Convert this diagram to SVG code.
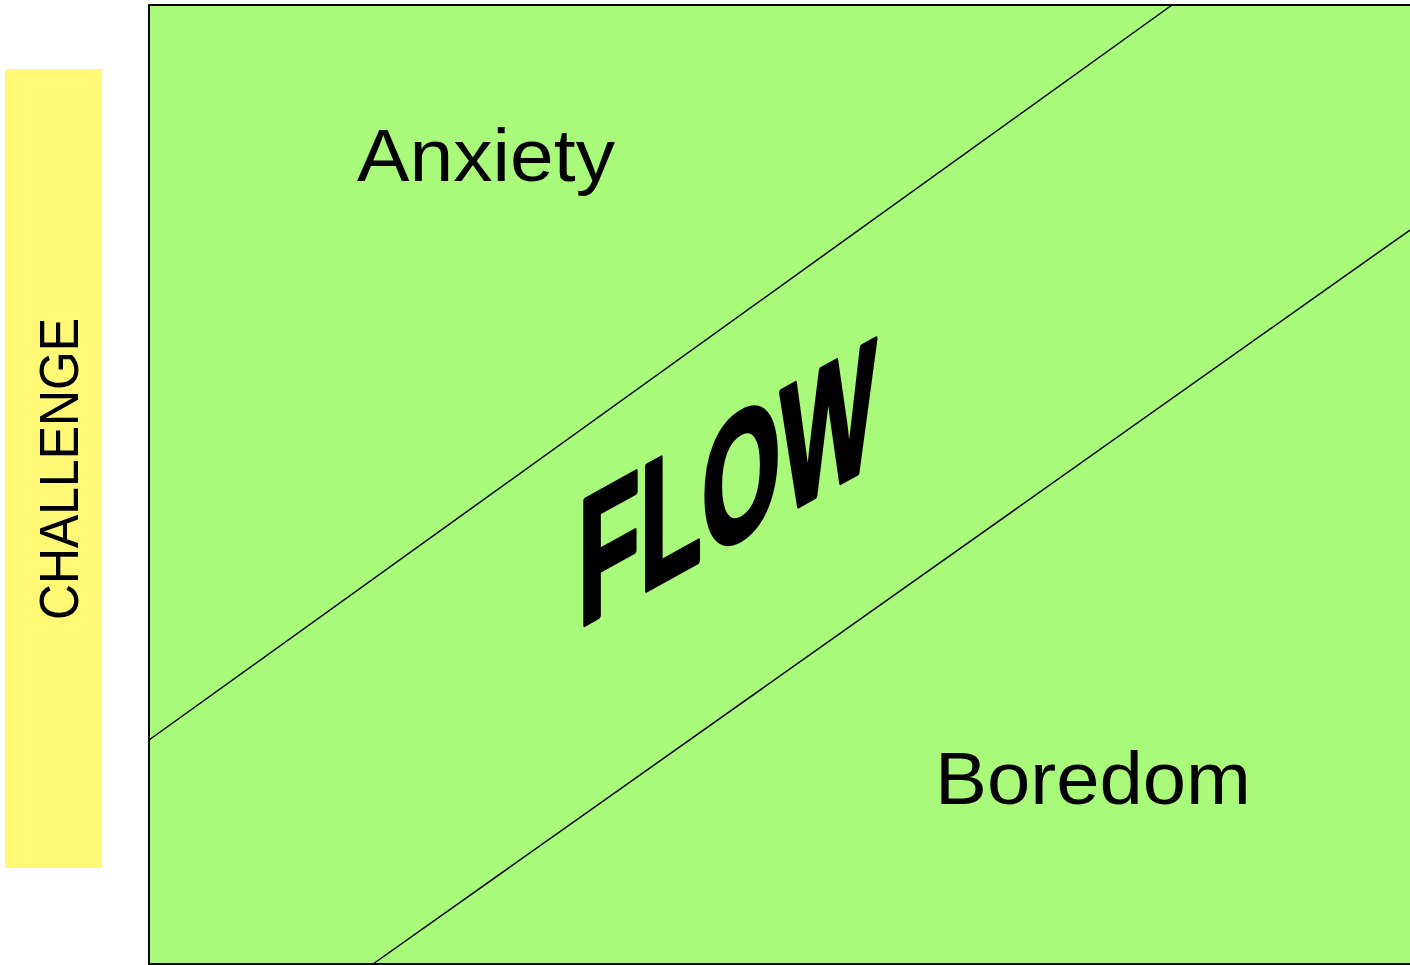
<svg xmlns="http://www.w3.org/2000/svg" width="1410" height="965" viewBox="0 0 1410 965">
<style>
.lbl{font-family:"Liberation Sans",Arial,sans-serif;fill:#000}
.ln{stroke:#000;stroke-width:1.5;fill:none}
</style>
<rect width="1410" height="965" fill="#fff"/>
<g id="axis">
<rect x="5" y="69" width="97" height="799" fill="#FFF976"/>
<text class="lbl" font-size="56" text-anchor="middle" textLength="302" lengthAdjust="spacingAndGlyphs" transform="translate(78,469) rotate(-90)">CHALLENGE</text>
</g>
<g id="field">
<rect x="149" y="5" width="1265" height="959" fill="#A9FA7B" stroke="#000" stroke-width="2"/>
</g>
<g id="connectors">
<line class="ln" x1="149" y1="740" x2="1172" y2="5"/>
<line class="ln" x1="373" y1="964" x2="1410" y2="230"/>
</g>
<g id="anxiety">
<text class="lbl" x="357" y="181" font-size="75" textLength="258" lengthAdjust="spacingAndGlyphs">Anxiety</text>
</g>
<g id="boredom">
<text class="lbl" x="935" y="804" font-size="75" textLength="316" lengthAdjust="spacingAndGlyphs">Boredom</text>
</g>
<g id="flow">
<text class="lbl" x="0" y="0" font-size="100" font-weight="bold" stroke="#000" stroke-width="3" stroke-linejoin="round" textLength="298" lengthAdjust="spacingAndGlyphs" transform="translate(578,628) skewY(-29) scale(1,1.8)">FLOW</text>
</g>
</svg>
